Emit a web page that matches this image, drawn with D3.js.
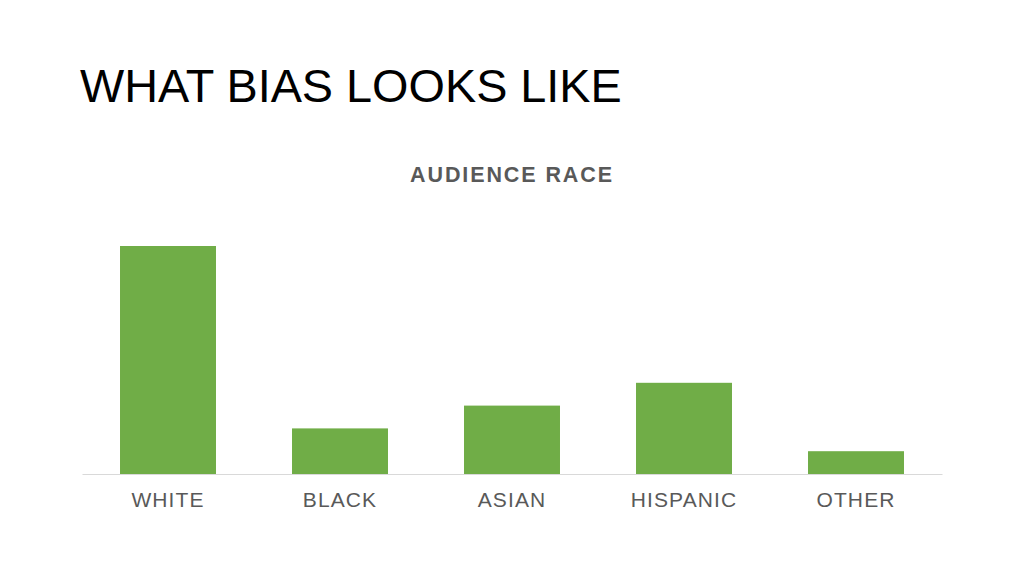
<!DOCTYPE html>
<html><head><meta charset="utf-8">
<script src="https://cdn.jsdelivr.net/npm/d3@7"></script>
<style>body{margin:0;background:#fff}svg{display:block}</style>
</head><body>
<script>
const categories = ["WHITE","BLACK","ASIAN","HISPANIC","OTHER"];
const values = [100, 20, 30, 40, 10];
const title = "WHAT BIAS LOOKS LIKE";
const chartTitle = "AUDIENCE RACE";

const W = 1024, H = 576;
const svg = d3.select("body").append("svg").attr("width", W).attr("height", H);
const font = "'Liberation Sans', Arial, Helvetica, sans-serif";

svg.append("text").attr("x", 80).attr("y", 102)
  .attr("font-family", font).attr("font-size", 46.8).attr("fill", "#000")
  .text(title);

svg.append("text").attr("x", 512).attr("y", 182).attr("text-anchor", "middle")
  .attr("font-family", font).attr("font-size", 21.5).attr("font-weight", "bold")
  .attr("letter-spacing", 1.9).attr("fill", "#595959")
  .text(chartTitle);

const x = d3.scaleBand().domain(categories).range([82, 942]).paddingInner(0.442).paddingOuter(0.221);
const y = d3.scaleLinear().domain([0, 100]).range([474, 246]);

svg.append("g").selectAll("rect").data(categories).join("rect")
  .attr("x", d => x(d)).attr("width", x.bandwidth())
  .attr("y", (d, i) => y(values[i])).attr("height", (d, i) => y(0) - y(values[i]))
  .attr("fill", "#70ad47");

const axis = svg.append("g").attr("transform", `translate(0,${y(0)})`)
  .call(d3.axisBottom(x).tickSize(0).tickPadding(18));
axis.select(".domain").attr("stroke", "#d9d9d9").attr("stroke-width", 1);
axis.selectAll("text").attr("font-family", font).attr("font-size", 21)
  .attr("letter-spacing", 1.1).attr("fill", "#595959");
</script>
</body></html>
